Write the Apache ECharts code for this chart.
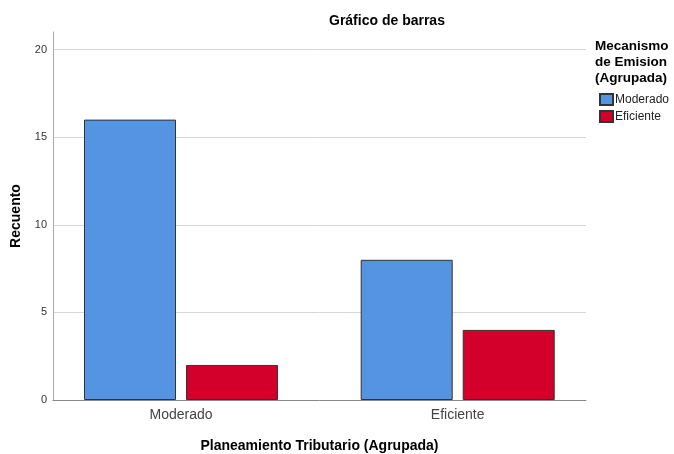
<!DOCTYPE html>
<html>
<head>
<meta charset="utf-8">
<script src="https://cdn.jsdelivr.net/npm/echarts@6/dist/echarts.min.js"></script>
<style>
  html, body { margin: 0; padding: 0; background: #fff; }
  #chart { width: 674px; height: 454px; }
</style>
</head>
<body>
<div id="chart"></div>
<script>
  // categories sit at x = 1, 2 on a value axis so the spacing can match SPSS
  const categories = ['Moderado', 'Eficiente'];
  const catPos = [1, 2];
  const moderado = [16, 8];
  const eficiente = [2, 4];
  const yTicks = [0, 5, 10, 15, 20];

  const FONT = '"Liberation Sans", Arial, sans-serif';
  const chart = echarts.init(document.getElementById('chart'));

  chart.setOption({
    animation: false,
    textStyle: { fontFamily: FONT },
    title: [
      { text: 'Gráfico de barras', left: 324, top: 9,
        textStyle: { fontSize: 14, fontWeight: 'bold', color: '#000', fontFamily: FONT } },
      { text: 'Mecanismo\nde Emision\n(Agrupada)', left: 590, top: 33,
        textStyle: { fontSize: 13.5, fontWeight: 'bold', color: '#000', lineHeight: 16, fontFamily: FONT } },
    ],
    legend: {
      orient: 'vertical', left: 594, top: 88,
      itemWidth: 13, itemHeight: 11, itemGap: 4,
      icon: 'rect',
      data: categories,
      textStyle: { fontSize: 12, color: '#222', padding: [0, 0, 0, -3], fontFamily: FONT },
    },
    grid: { left: 53, right: 88, top: 32, bottom: 54, outerBoundsMode: 'none' },
    xAxis: {
      type: 'value', min: 0.5373, max: 2.4637,
      name: 'Planeamiento Tributario (Agrupada)', nameLocation: 'middle', nameGap: 39,
      nameTextStyle: { fontSize: 14, fontWeight: 'bold', color: '#000' },
      axisLine: { lineStyle: { color: '#888', width: 1 } },
      axisTick: { show: false },
      splitLine: { show: false },
      axisLabel: {
        customValues: catPos, fontSize: 14, color: '#444', margin: 8,
        formatter: v => categories[catPos.indexOf(v)] || '',
      },
    },
    yAxis: {
      type: 'value', min: 0, max: 21, interval: 5,
      name: 'Recuento', nameLocation: 'middle', nameGap: 30,
      nameTextStyle: { fontSize: 14, fontWeight: 'bold', color: '#000' },
      axisLine: { show: true, lineStyle: { color: '#aaa', width: 1 } },
      axisTick: { show: false },
      axisLabel: {
        fontSize: 11, color: '#333', margin: 6, showMaxLabel: false,
        formatter: v => yTicks.includes(v) ? String(v) : '',
      },
      splitLine: { show: true, showMaxLine: false, lineStyle: { color: '#d6d6d6', width: 1 } },
    },
    series: [
      {
        name: 'Moderado', type: 'bar', barWidth: 92, barGap: '10.9%',
        data: catPos.map((x, i) => [x, moderado[i]]),
        itemStyle: { color: '#5593e3', borderColor: '#333', borderWidth: 1 },
      },
      {
        name: 'Eficiente', type: 'bar', barWidth: 92, barGap: '10.9%',
        data: catPos.map((x, i) => [x, eficiente[i]]),
        itemStyle: { color: '#d3002c', borderColor: '#333', borderWidth: 1 },
      },
    ],
  });
</script>
</body>
</html>
